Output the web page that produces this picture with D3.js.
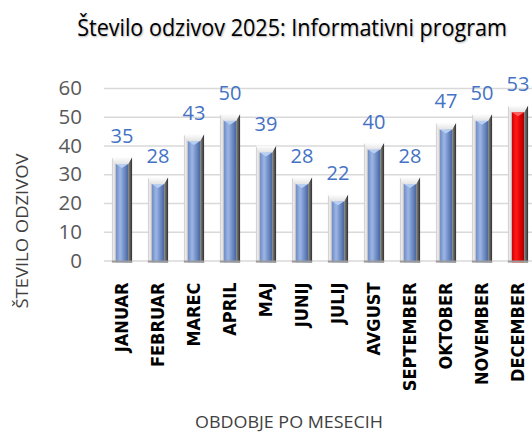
<!DOCTYPE html>
<html>
<head>
<meta charset="utf-8">
<script src="https://cdn.jsdelivr.net/npm/d3@7"></script>
<style>
body{margin:0;background:#fff;}
svg{display:block;}
</style>
</head>
<body>
<svg id="chart" width="532" height="432"></svg>
<script>
var svgWidth=532;
var svgHeight=432;
var months=["JANUAR","FEBRUAR","MAREC","APRIL","MAJ","JUNIJ","JULIJ","AVGUST","SEPTEMBER","OKTOBER","NOVEMBER","DECEMBER"];
var values=[35,28,43,50,39,28,22,40,28,47,50,53];
var highlight=["DECEMBER"];
var yTicks=[0,10,20,30,40,50,60];

var plotLeft=104;
var plotRight=536;
var plotTop=88;
var plotBottom=260.5;

var svg=d3.select("#chart");

var xScale=d3.scaleBand()
    .domain(months)
    .range([plotLeft,plotRight])
    .paddingInner(0.44)
    .paddingOuter(0.22);

var yScale=d3.scaleLinear()
    .domain([0,60])
    .range([plotBottom,plotTop]);

// gradients
var defs=svg.append("defs");
function hGrad(id,stops){
    var g=defs.append("linearGradient").attr("id",id)
        .attr("x1","0%").attr("x2","100%").attr("y1","0%").attr("y2","0%");
    stops.forEach(function(s){
        g.append("stop").attr("offset",s[0]).attr("stop-color",s[1]);
    });
}
hGrad("leftSide",[["0%","#c8c8c8"],["50%","#f2f2f2"],["100%","#b8b8b8"]]);
hGrad("rightSide",[["0%","#8a8a8a"],["60%","#555"],["100%","#2e2e2e"]]);
hGrad("blueFace",[["0%","#6f8cc6"],["35%","#9db6e4"],["70%","#6e8bc4"],["100%","#4a669e"]]);
hGrad("redFace",[["0%","#d00000"],["35%","#ff1a1a"],["70%","#e00000"],["100%","#a00000"]]);
var cap=defs.append("linearGradient").attr("id","capFace")
    .attr("x1","0%").attr("x2","0%").attr("y1","0%").attr("y2","100%");
cap.append("stop").attr("offset","0%").attr("stop-color","#ffffff");
cap.append("stop").attr("offset","100%").attr("stop-color","#e4e4e4");

// title (squeezed horizontally to the narrow look of the original)
var title=svg.append("text")
    .attr("text-anchor","middle")
    .attr("font-family","Open Sans, sans-serif")
    .attr("font-size",24)
    .attr("fill","#000")
    .style("text-shadow","1px 1px 2px rgba(0,0,0,0.3)")
    .text("Število odzivov 2025: Informativni program");
var tLen=title.node().getComputedTextLength();
title.attr("transform","translate(292,36) scale("+(430/tLen)+",1)");

// gridlines
svg.append("g")
    .attr("class","grid")
    .attr("transform","translate("+plotLeft+",0)")
    .call(d3.axisLeft(yScale).tickValues(yTicks).tickSize(-(svgWidth-plotLeft)).tickFormat(""))
    .call(function(g){
        g.select(".domain").remove();
        g.selectAll("line").attr("stroke","#d9d9d9").attr("stroke-width",1.5);
    });

// y axis labels
svg.append("g")
    .attr("transform","translate(82,0)")
    .call(d3.axisLeft(yScale).tickValues(yTicks).tickSize(0).tickPadding(0))
    .call(function(g){
        g.select(".domain").remove();
        g.selectAll("text")
            .attr("font-family","Open Sans, sans-serif")
            .attr("font-size",20.5)
            .attr("fill","#595959");
    });

// bars
var bevel=4;
var capH=7;
var bars=svg.append("g").selectAll("g")
    .data(values)
    .enter()
    .append("g");

bars.each(function(d,i){
    var g=d3.select(this);
    var x0=xScale(months[i]);
    var w=xScale.bandwidth();
    var yt=yScale(d)-3;
    var yb=yScale(0)+2;
    var isRed=highlight.indexOf(months[i])>=0;
    g.append("polygon")
        .attr("points",[[x0,yt],[x0+bevel,yt+capH],[x0+bevel,yb],[x0,yb]].join(" "))
        .attr("fill","url(#leftSide)");
    g.append("polygon")
        .attr("points",[[x0+w,yt],[x0+w-bevel,yt+capH],[x0+w-bevel,yb],[x0+w,yb]].join(" "))
        .attr("fill","url(#rightSide)");
    g.append("rect")
        .attr("x",x0+bevel)
        .attr("y",yt+capH)
        .attr("width",w-2*bevel)
        .attr("height",yb-yt-capH)
        .attr("fill",isRed?"url(#redFace)":"url(#blueFace)");
    g.append("polygon")
        .attr("points",[[x0,yt],[x0+w,yt],[x0+w-bevel,yt+capH],[x0+bevel,yt+capH]].join(" "))
        .attr("fill","url(#capFace)");
    g.append("polygon")
        .attr("points",[[x0+bevel,yt+capH],[x0+w-bevel,yt+capH],[x0+w/2,yt+capH+4]].join(" "))
        .attr("fill",isRed?"#ff6060":"#b9cff2");
    g.append("rect")
        .attr("x",x0)
        .attr("y",yb-2)
        .attr("width",w)
        .attr("height",2)
        .attr("fill","#9a9a9a");
});

// value labels
bars.append("text")
    .attr("x",function(d,i){return xScale(months[i])+xScale.bandwidth()/2;})
    .attr("y",function(d){return yScale(d)-17;})
    .attr("text-anchor","middle")
    .attr("font-family","Open Sans, sans-serif")
    .attr("font-size",20)
    .attr("fill","#4472C4")
    .text(function(d){return d;});

// x axis labels
svg.append("g")
    .attr("transform","translate(0,"+plotBottom+")")
    .call(d3.axisBottom(xScale).tickSize(0))
    .call(function(g){
        g.select(".domain").remove();
        g.selectAll("text")
            .attr("font-family","DejaVu Sans Condensed, DejaVu Sans, sans-serif")
            .attr("font-weight","bold")
            .attr("font-size",18)
            .attr("fill","#000")
            .attr("text-anchor","end")
            .attr("dy","0.35em")
            .attr("transform","translate(0,22) rotate(-90)")
            .attr("y",0)
            .attr("x",0);
    });

// axis titles
svg.append("text")
    .attr("transform","translate(28,231) rotate(-90)")
    .attr("text-anchor","middle")
    .attr("font-family","Open Sans, sans-serif")
    .attr("font-size",16)
    .attr("textLength",155)
    .attr("lengthAdjust","spacingAndGlyphs")
    .attr("fill","#404040")
    .text("ŠTEVILO ODZIVOV");

svg.append("text")
    .attr("x",289)
    .attr("y",428)
    .attr("text-anchor","middle")
    .attr("font-family","Open Sans, sans-serif")
    .attr("font-size",16)
    .attr("textLength",188)
    .attr("lengthAdjust","spacingAndGlyphs")
    .attr("fill","#404040")
    .text("OBDOBJE PO MESECIH");
</script>
</body>
</html>
